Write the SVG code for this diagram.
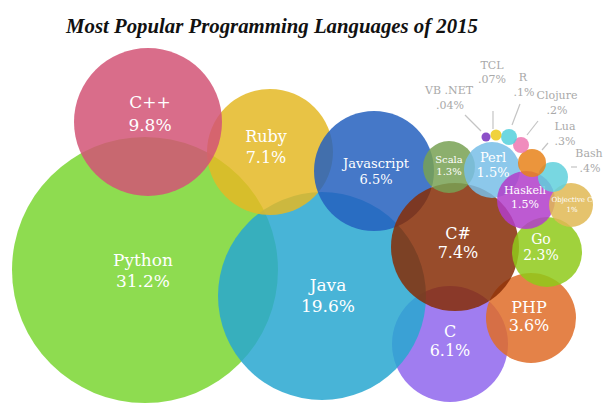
<svg xmlns="http://www.w3.org/2000/svg" width="604" height="405" viewBox="0 0 604 405">
  <style>
    .bubble { fill-opacity: 0.85; }
    .lbl { font-family: "DejaVu Serif", "Liberation Serif", serif; fill: #ffffff; text-anchor: middle; }
    .small { font-family: "DejaVu Serif", "Liberation Serif", serif; fill: #a9a9a9; text-anchor: middle; font-size: 11px; }
    .title { font-family: "Liberation Serif", "DejaVu Serif", serif; font-style: italic; font-weight: bold; fill: #111111; text-anchor: middle; }
    .leader { stroke: #c4c4c4; stroke-width: 1.2; fill: none; }
  </style>
  <rect width="604" height="405" fill="#ffffff"/>

  <text class="title" x="272" y="33" font-size="20.8">Most Popular Programming Languages of 2015</text>

  <!-- leader lines for the small bubbles -->
  <g id="connectors">
    <line class="leader" x1="465" y1="115" x2="481" y2="131"/>
    <line class="leader" x1="493" y1="111" x2="493" y2="129"/>
    <line class="leader" x1="520" y1="104" x2="512" y2="125"/>
    <line class="leader" x1="538" y1="121" x2="527" y2="135"/>
    <line class="leader" x1="548" y1="143" x2="542" y2="150"/>
    <line class="leader" x1="571" y1="167" x2="577" y2="167"/>
  </g>

  <g id="python">
    <circle class="bubble" cx="145" cy="270" r="133" fill="#7ad631"/>
    <text class="lbl" x="143" y="266" font-size="17">Python</text>
    <text class="lbl" x="143" y="287" font-size="17">31.2%</text>
  </g>
  <g id="c">
    <circle class="bubble" cx="450" cy="344" r="58" fill="#8f66ed"/>
  </g>
  <g id="java">
    <circle class="bubble" cx="322" cy="296" r="104" fill="#28a7d0"/>
    <text class="lbl" x="328" y="291" font-size="17">Java</text>
    <text class="lbl" x="328" y="312" font-size="17">19.6%</text>
  </g>
  <g id="ruby">
    <circle class="bubble" cx="270" cy="152" r="63" fill="#e4b825"/>
    <text class="lbl" x="266" y="142" font-size="16">Ruby</text>
    <text class="lbl" x="266" y="163" font-size="16">7.1%</text>
  </g>
  <g id="cpp">
    <circle class="bubble" cx="148" cy="122" r="74" fill="#d25475"/>
    <text class="lbl" x="150" y="108" font-size="17">C++</text>
    <text class="lbl" x="150" y="131" font-size="17">9.8%</text>
  </g>
  <g id="javascript">
    <circle class="bubble" cx="374" cy="171" r="60" fill="#2560be"/>
    <text class="lbl" x="376" y="168" font-size="13">Javascript</text>
    <text class="lbl" x="376" y="184" font-size="13">6.5%</text>
  </g>
  <g id="php">
    <circle class="bubble" cx="531" cy="318" r="45" fill="#df6c28"/>
    <text class="lbl" x="529" y="313" font-size="16">PHP</text>
    <text class="lbl" x="529" y="331" font-size="16">3.6%</text>
  </g>
  <g id="csharp">
    <circle class="bubble" cx="455" cy="247" r="64" fill="#862d06"/>
    <text class="lbl" x="458" y="239" font-size="16">C#</text>
    <text class="lbl" x="458" y="258" font-size="16">7.4%</text>
  </g>
  <!-- label for C drawn above the C# overlap -->
  <g id="c-label">
    <text class="lbl" x="450" y="337" font-size="16">C</text>
    <text class="lbl" x="450" y="356" font-size="16">6.1%</text>
  </g>
  <g id="go">
    <circle class="bubble" cx="547" cy="252" r="35" fill="#8fca1a"/>
    <text class="lbl" x="541" y="244" font-size="14">Go</text>
    <text class="lbl" x="541" y="260" font-size="14">2.3%</text>
  </g>
  <g id="scala">
    <circle class="bubble" cx="449" cy="167" r="26" fill="#78a154"/>
    <text class="lbl" x="449" y="163" font-size="10">Scala</text>
    <text class="lbl" x="449" y="175" font-size="10">1.3%</text>
  </g>
  <g id="perl">
    <circle class="bubble" cx="492" cy="170" r="28" fill="#78bee7"/>
    <text class="lbl" x="493" y="162" font-size="13">Perl</text>
    <text class="lbl" x="493" y="177" font-size="13">1.5%</text>
  </g>
  <g id="haskell">
    <circle class="bubble" cx="526" cy="200" r="29" fill="#b23dca"/>
    <text class="lbl" x="525" y="194" font-size="11">Haskell</text>
    <text class="lbl" x="525" y="208" font-size="11">1.5%</text>
  </g>
  <g id="objective-c">
    <circle class="bubble" cx="571" cy="205" r="22" fill="#e1b854"/>
    <text class="lbl" x="572" y="202" font-size="7">Objective C</text>
    <text class="lbl" x="572" y="212" font-size="7">1%</text>
  </g>
  <g id="bash">
    <circle class="bubble" cx="553" cy="177" r="15" fill="#60d0dc"/>
    <text class="small" x="589" y="157">Bash</text>
    <text class="small" x="590" y="172">.4%</text>
  </g>
  <g id="lua">
    <circle class="bubble" cx="532" cy="163" r="14" fill="#e7831a"/>
    <text class="small" x="565" y="130">Lua</text>
    <text class="small" x="565" y="145">.3%</text>
  </g>
  <g id="clojure">
    <circle class="bubble" cx="521" cy="145" r="8" fill="#ed78b2"/>
    <text class="small" x="557" y="99">Clojure</text>
    <text class="small" x="557" y="114">.2%</text>
  </g>
  <g id="r">
    <circle class="bubble" cx="509" cy="137" r="8" fill="#54d0dc"/>
    <text class="small" x="523" y="81">R</text>
    <text class="small" x="524" y="96">.1%</text>
  </g>
  <g id="tcl">
    <circle class="bubble" cx="496" cy="135" r="5.5" fill="#edca1a"/>
    <text class="small" x="492" y="69">TCL</text>
    <text class="small" x="492" y="83">.07%</text>
  </g>
  <g id="vbnet">
    <circle class="bubble" cx="486" cy="137" r="4.5" fill="#7831be"/>
    <text class="small" x="449" y="94">VB .NET</text>
    <text class="small" x="450" y="109">.04%</text>
  </g>
</svg>
